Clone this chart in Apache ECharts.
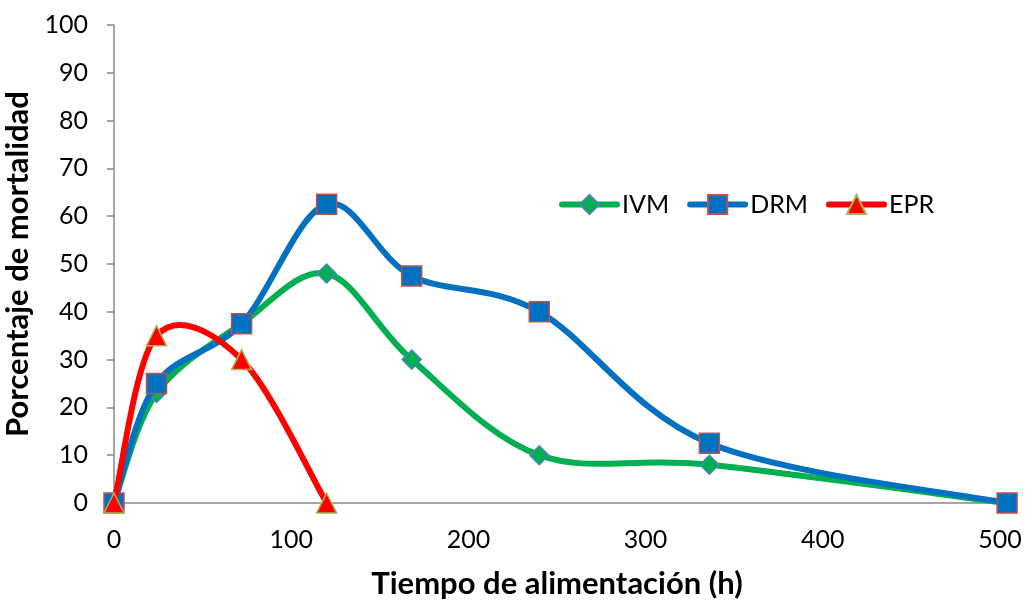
<!DOCTYPE html>
<html>
<head>
<meta charset="utf-8">
<script src="https://cdn.jsdelivr.net/npm/echarts@6/dist/echarts.min.js"></script>
<style>
  html, body { margin: 0; padding: 0; background: #fff; }
  #chart { width: 1025px; height: 600px; }
</style>
</head>
<body>
<div id="chart"></div>
<script>
// Feeding time (h) and mortality (%) per treatment
const hoursIVM = [0, 24, 72, 120, 168, 240, 336, 504];
const valuesIVM = [0, 23, 37.5, 48, 30, 10, 8, 0];
const hoursDRM = [0, 24, 72, 120, 168, 240, 336, 504];
const valuesDRM = [0, 25, 37.5, 62.5, 47.5, 40, 12.5, 0];
const hoursEPR = [0, 24, 72, 120];
const valuesEPR = [0, 35, 30, 0];

const xTicks = [0, 100, 200, 300, 400, 500];
const yTicks = [0, 10, 20, 30, 40, 50, 60, 70, 80, 90, 100];

const FONT = 'Lato, "Open Sans", sans-serif';
const LINE_W = 6;

const pairs = (xs, ys) => xs.map((x, i) => [x, ys[i]]);

// One row per curve segment: previous point, start, end, next point.
function segments(xs, ys) {
  const rows = [];
  const n = xs.length;
  for (let i = 0; i < n - 1; i++) {
    const a = i > 0 ? i - 1 : i;
    const d = i + 2 < n ? i + 2 : i + 1;
    rows.push([xs[a], ys[a], xs[i], ys[i], xs[i + 1], ys[i + 1], xs[d], ys[d]]);
  }
  return rows;
}

// Cardinal spline segment (tension 1/6) drawn as a cubic Bezier in pixel space.
function curveRenderer(color) {
  return function (params, api) {
    const p0 = api.coord([api.value(0), api.value(1)]);
    const p1 = api.coord([api.value(2), api.value(3)]);
    const p2 = api.coord([api.value(4), api.value(5)]);
    const p3 = api.coord([api.value(6), api.value(7)]);
    return {
      type: 'bezierCurve',
      shape: {
        x1: p1[0], y1: p1[1],
        x2: p2[0], y2: p2[1],
        cpx1: p1[0] + (p2[0] - p0[0]) / 6,
        cpy1: p1[1] + (p2[1] - p0[1]) / 6,
        cpx2: p2[0] - (p3[0] - p1[0]) / 6,
        cpy2: p2[1] - (p3[1] - p1[1]) / 6
      },
      style: { stroke: color, lineWidth: LINE_W, fill: null, lineCap: 'round' }
    };
  };
}

function curveSeries(name, xs, ys, color, z) {
  return {
    name: name + ' curve',
    type: 'custom',
    data: segments(xs, ys),
    encode: { x: [2, 4], y: [3, 5] },
    renderItem: curveRenderer(color),
    clip: false,
    silent: true,
    z: z
  };
}

function markerSeries(name, xs, ys, symbol, size, fill, border, lineColor, z) {
  return {
    name: name,
    type: 'line',
    data: pairs(xs, ys),
    clip: false,
    showAllSymbol: true,
    symbol: symbol,
    symbolSize: size,
    lineStyle: { color: lineColor, width: LINE_W, opacity: 0 },
    itemStyle: { color: fill, borderColor: border, borderWidth: 1.5 },
    z: z
  };
}

const chart = echarts.init(document.getElementById('chart'), null, { renderer: 'canvas' });

chart.setOption({
  animation: false,
  backgroundColor: '#ffffff',
  textStyle: { fontFamily: FONT },
  grid: {
    left: 114, right: 25, top: 25, bottom: 97,
    containLabel: false,
    outerBoundsMode: 'none'
  },
  legend: {
    left: 554,
    top: 187,
    itemWidth: 55,
    itemHeight: 24,
    itemGap: 18,
    textStyle: { fontSize: 25, color: '#000', fontFamily: FONT },
    data: [
      { name: 'IVM', lineStyle: { color: '#00B050', width: LINE_W, opacity: 1, cap: 'round' } },
      { name: 'DRM', lineStyle: { color: '#0070C0', width: LINE_W, opacity: 1, cap: 'round' } },
      { name: 'EPR', lineStyle: { color: '#FF0000', width: LINE_W, opacity: 1, cap: 'round' } }
    ]
  },
  xAxis: {
    type: 'value',
    min: xTicks[0],
    max: xTicks[xTicks.length - 1],
    interval: xTicks[1] - xTicks[0],
    name: 'Tiempo de alimentación (h)',
    nameLocation: 'middle',
    nameGap: 65,
    nameTextStyle: { fontSize: 31, fontWeight: 'bold', color: '#000', fontFamily: FONT },
    axisLine: { lineStyle: { color: '#888888', width: 1.5 } },
    axisTick: { show: false },
    axisLabel: { fontSize: 25, color: '#000', margin: 24, fontFamily: FONT },
    splitLine: { show: false }
  },
  yAxis: {
    type: 'value',
    min: yTicks[0],
    max: yTicks[yTicks.length - 1],
    interval: yTicks[1] - yTicks[0],
    name: 'Porcentaje de mortalidad',
    nameLocation: 'middle',
    nameGap: 69,
    nameTextStyle: { fontSize: 31, fontWeight: 'bold', color: '#000', fontFamily: FONT },
    axisLine: { show: true, lineStyle: { color: '#888888', width: 1.5 } },
    axisTick: { show: true, inside: false, length: 7, lineStyle: { color: '#888888', width: 1.5 } },
    axisLabel: { fontSize: 25, color: '#000', margin: 26, fontFamily: FONT },
    splitLine: { show: false }
  },
  series: [
    markerSeries('IVM', hoursIVM, valuesIVM, 'diamond', 19, '#00B050', '#4F81BD', '#00B050', 3),
    markerSeries('DRM', hoursDRM, valuesDRM, 'rect', 20, '#0070C0', '#C0504D', '#0070C0', 5),
    markerSeries('EPR', hoursEPR, valuesEPR, 'triangle', 20, '#FF0000', '#9BBB59', '#FF0000', 7),
    curveSeries('IVM', hoursIVM, valuesIVM, '#00B050', 2),
    curveSeries('DRM', hoursDRM, valuesDRM, '#0070C0', 4),
    curveSeries('EPR', hoursEPR, valuesEPR, '#FF0000', 6)
  ]
});
</script>
</body>
</html>
